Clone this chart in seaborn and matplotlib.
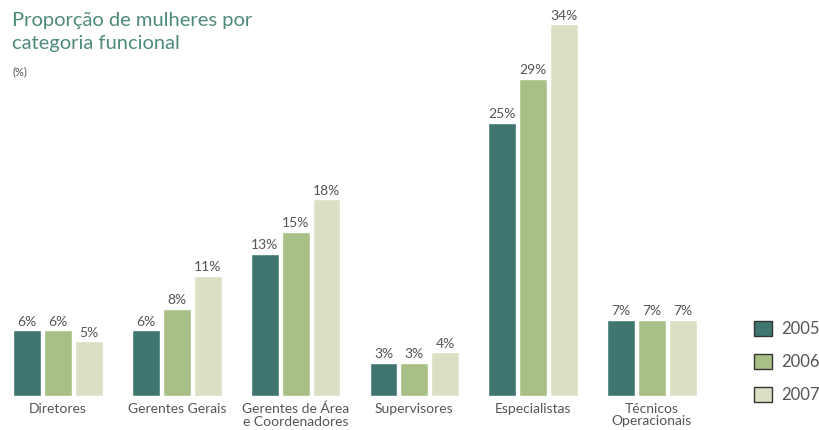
import matplotlib
matplotlib.use("Agg")
import matplotlib.pyplot as plt
import seaborn as sns
import pandas as pd

categories = ["Diretores", "Gerentes Gerais", "Gerentes de Área\ne Coordenadores",
              "Supervisores", "Especialistas", "Técnicos\nOperacionais"]
years = ["2005", "2006", "2007"]
v2005 = [6, 6, 13, 3, 25, 7]
v2006 = [6, 8, 15, 3, 29, 7]
v2007 = [5, 11, 18, 4, 34, 7]

rows = []
for y, vals in zip(years, [v2005, v2006, v2007]):
    for c, v in zip(categories, vals):
        rows.append({"categoria": c, "ano": y, "valor": v})
df = pd.DataFrame(rows)

sns.set_theme(style="white")
plt.rcParams["font.family"] = ["Lato", "DejaVu Sans"]

palette = {"2005": "#3f7770", "2006": "#a8bf86", "2007": "#dbe0c4"}
text_gray = "#555555"

fig = plt.figure(figsize=(8.2, 4.3), dpi=100)
ax = fig.add_axes([0.0, 0.079, 0.86, 0.91])
sns.barplot(data=df, x="categoria", y="valor", hue="ano", order=categories,
            hue_order=years, palette=palette, width=0.78, gap=0.1,
            saturation=1, ax=ax)

for cont, vals in zip(ax.containers, [v2005, v2006, v2007]):
    ax.bar_label(cont, labels=[f"{v:g}%" for v in vals], padding=2,
                 fontsize=10, color=text_gray)

ax.set_xlim(-0.49, 5.45)
ax.set_ylim(0, 35.8)
ax.set_xlabel("")
ax.set_ylabel("")
ax.set_yticks([])
ax.tick_params(axis="x", length=0, pad=5, labelsize=10, labelcolor=text_gray)
for lbl in ax.get_xticklabels():
    lbl.set_linespacing(1.05)
for s in ax.spines.values():
    s.set_visible(False)

leg = ax.legend(loc="lower left", bbox_to_anchor=(0.92, 0.062),
                bbox_transform=fig.transFigure, frameon=False,
                fontsize=12, handlelength=1.05, handleheight=1.05,
                labelspacing=1.0, handletextpad=0.55, labelcolor=text_gray,
                borderpad=0, borderaxespad=0)
for h in leg.legend_handles:
    h.set_edgecolor("#333333")
    h.set_linewidth(1.0)

fig.text(0.015, 0.972, "Proporção de mulheres por\ncategoria funcional",
         ha="left", va="top", fontsize=14.5, color="#4e8a7c", linespacing=1.4)
fig.text(0.015, 0.832, "(%)", ha="left", va="center", fontsize=8, color=text_gray)

fig.savefig("out.png", dpi=100)
